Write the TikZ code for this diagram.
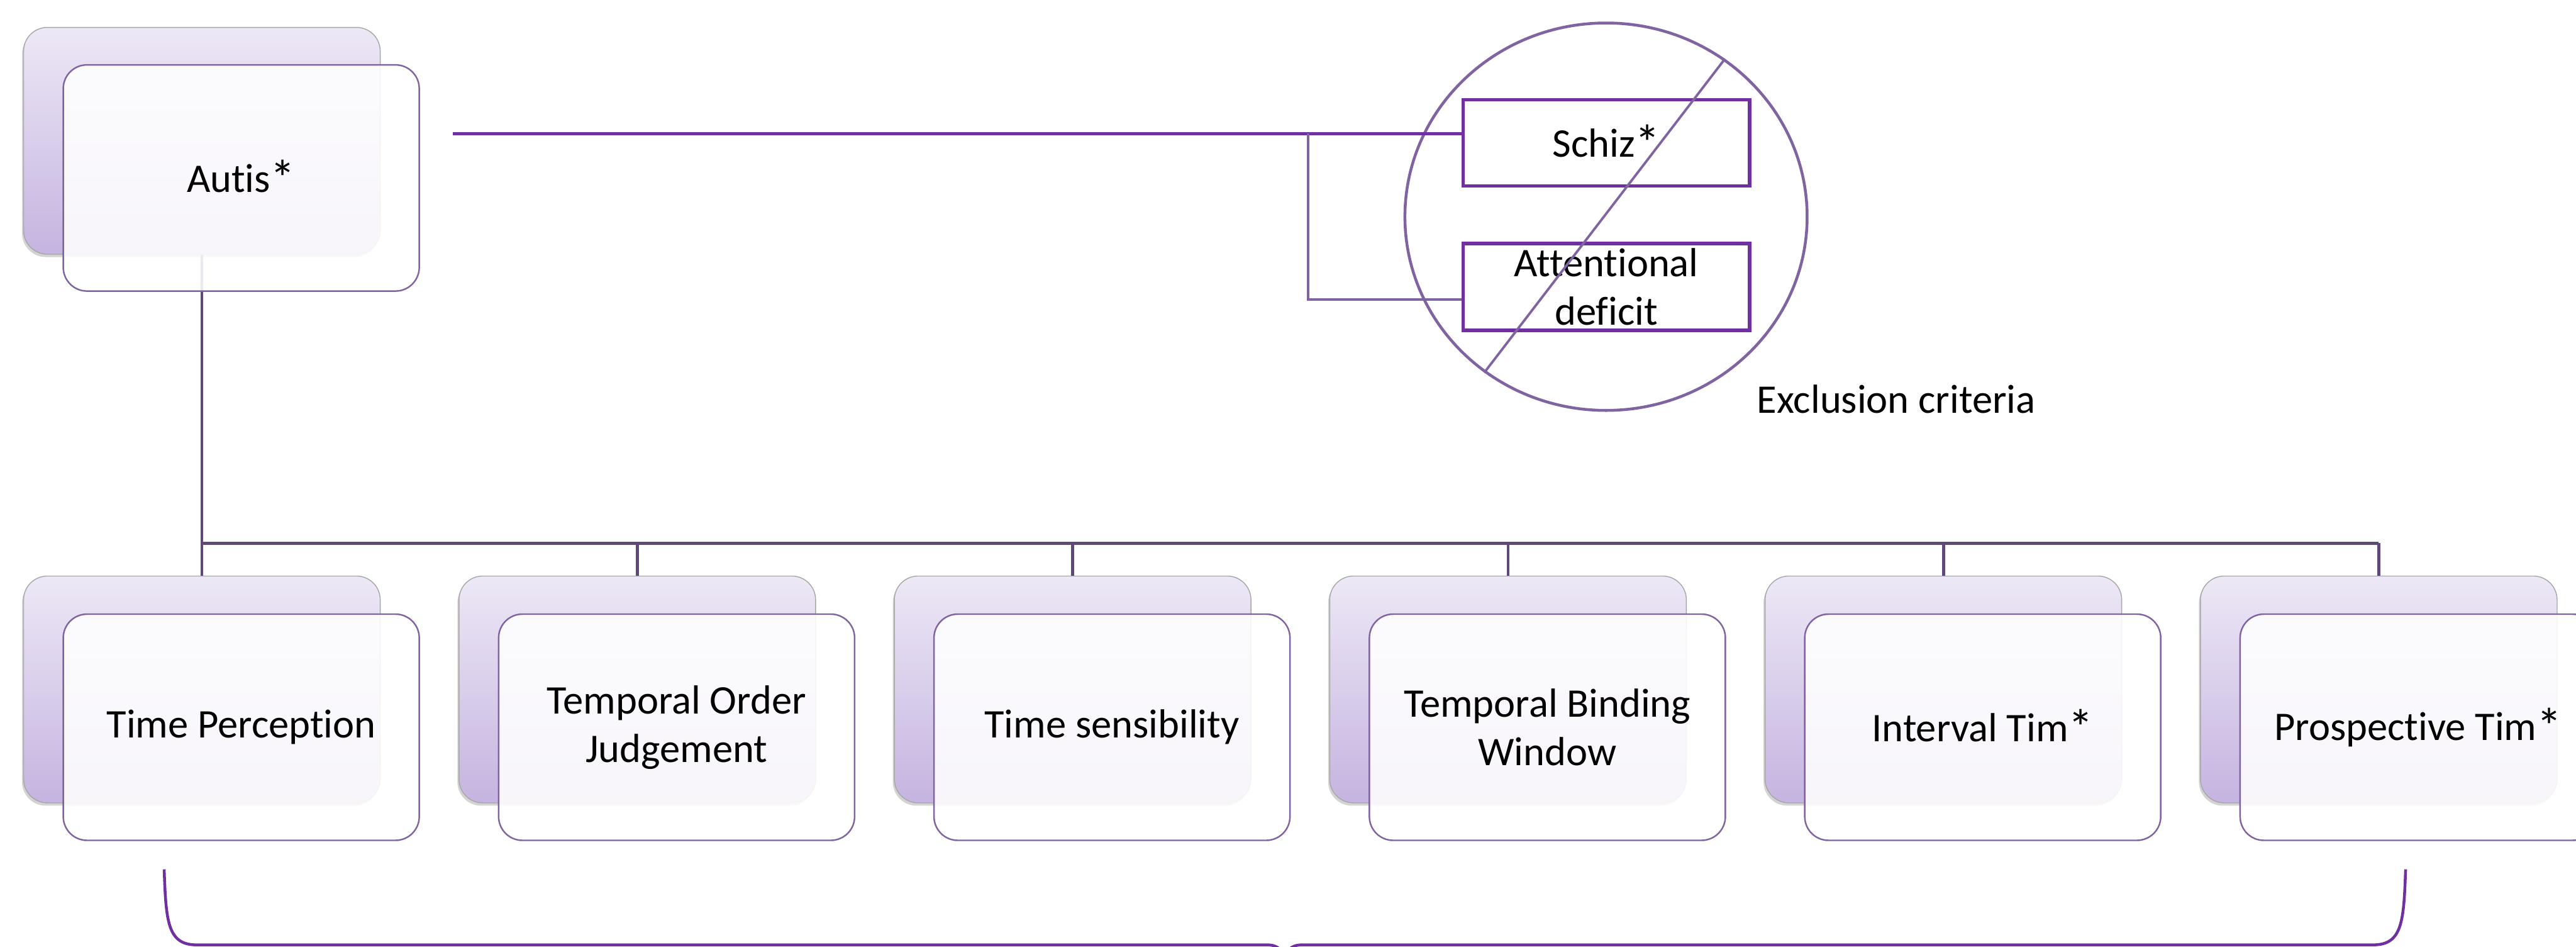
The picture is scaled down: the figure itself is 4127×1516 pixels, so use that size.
\documentclass[tikz,border=0pt]{standalone}
\usepackage{fontspec}
\usepackage{graphicx}
\setmainfont{Carlito}[Ligatures=NoCommon]
\usetikzlibrary{shapes.geometric,shadows,calc}
\newcommand\starmark{\raisebox{-0.2ex}{\scalebox{1.25}{*}}}
\definecolor{dpurple}{HTML}{7030A0}
\definecolor{acc}{HTML}{8064A2}
\definecolor{busc}{HTML}{5F497A}
\definecolor{btop}{HTML}{EDE8F6}
\definecolor{bbot}{HTML}{C5B4E0}
\begin{document}
\begin{tikzpicture}[x=0.01cm,y=-0.01cm,
  backbox/.style={rectangle, rounded corners=0.38cm, minimum width=5.71cm, minimum height=3.63cm,
    draw=gray!70, line width=0.4pt, top color=btop, bottom color=bbot,
    drop shadow={opacity=0.35, shadow xshift=-0.025cm, shadow yshift=-0.045cm}},
  frontbox/.style={rectangle, rounded corners=0.38cm, minimum width=5.70cm, minimum height=3.62cm,
    draw=acc, line width=0.7pt, fill=white, fill opacity=0.88, text opacity=1, align=center,
    font=\fontsize{18.5pt}{22pt}\selectfont},
  exbox/.style={rectangle, minimum width=4.59cm, minimum height=1.38cm, draw=dpurple, line width=1.5pt,
    fill=white, align=center, inner sep=0pt, font=\fontsize{18.5pt}{22pt}\selectfont},
  busline/.style={draw=busc, line width=1.35pt},
  link/.style={draw=dpurple, line width=1.6pt},
  sublink/.style={draw=acc, line width=1.2pt},
  bracepath/.style={draw=dpurple, line width=1.3pt},
  lbl/.style={font=\fontsize{18.5pt}{22pt}\selectfont}]
\useasboundingbox (0,0) rectangle (4127,1516);

% back boxes
\node[backbox] (aB) at (323.5,225.5) {};
\foreach \i in {1,...,6} {
  \node[backbox] (b\i) at ({323.5+(\i-1)*697.5},1104) {};
}

% connectors of the tree
\coordinate (busL) at (323.5,870);
\coordinate (busR) at (3811,870);
\draw[busline] (aB.south) -- (busL) -- (busR);
\foreach \i in {1,...,6} {
  \draw[busline] (b\i.north) -- (b\i.north |- busL);
}

% front boxes
\node[frontbox] (aF) at (386.5,285) {Autis\starmark};
\foreach \i/\t in {1/{Time Perception},2/{Temporal Order\\Judgement},3/{Time sensibility},
                   4/{Temporal Binding\\Window},5/{Interval Tim\starmark},6/{Prospective Tim\starmark}} {
  \node[frontbox] (f\i) at ({386.5+(\i-1)*697.5},1164.5) {\t};
}

% exclusion criteria
\node[ellipse, draw=acc, line width=1.3pt, minimum width=6.44cm, minimum height=6.2cm, inner sep=0pt] (excl) at (2573,347) {};
\node[exbox] (sc) at (2573.5,229) {Schiz\starmark};
\node[exbox, minimum height=1.39cm] (at) at (2573.5,459.5) {Attentional\\deficit};
\coordinate (lstart) at (725,214);
\coordinate (br) at (2096,214);
\draw[link] (lstart) -- (lstart -| sc.west);
\draw[sublink] (br) |- ([yshift=-0.2cm]at.west);
\draw[acc, line width=1.1pt] (excl.53) -- (excl.232);
\node[lbl, anchor=base] (exl) at (3038,661) {Exclusion criteria};

% bottom brace
\draw[bracepath] (263,1392) .. controls (266,1475) and (268,1513) .. (315,1513) -- (2030,1513)
  .. controls (2048,1513) and (2058,1522) .. (2058,1545);
\draw[bracepath] (3854,1392) .. controls (3851,1475) and (3849,1513) .. (3802,1513) -- (2086,1513)
  .. controls (2068,1513) and (2058,1522) .. (2058,1545);
\end{tikzpicture}
\end{document}
